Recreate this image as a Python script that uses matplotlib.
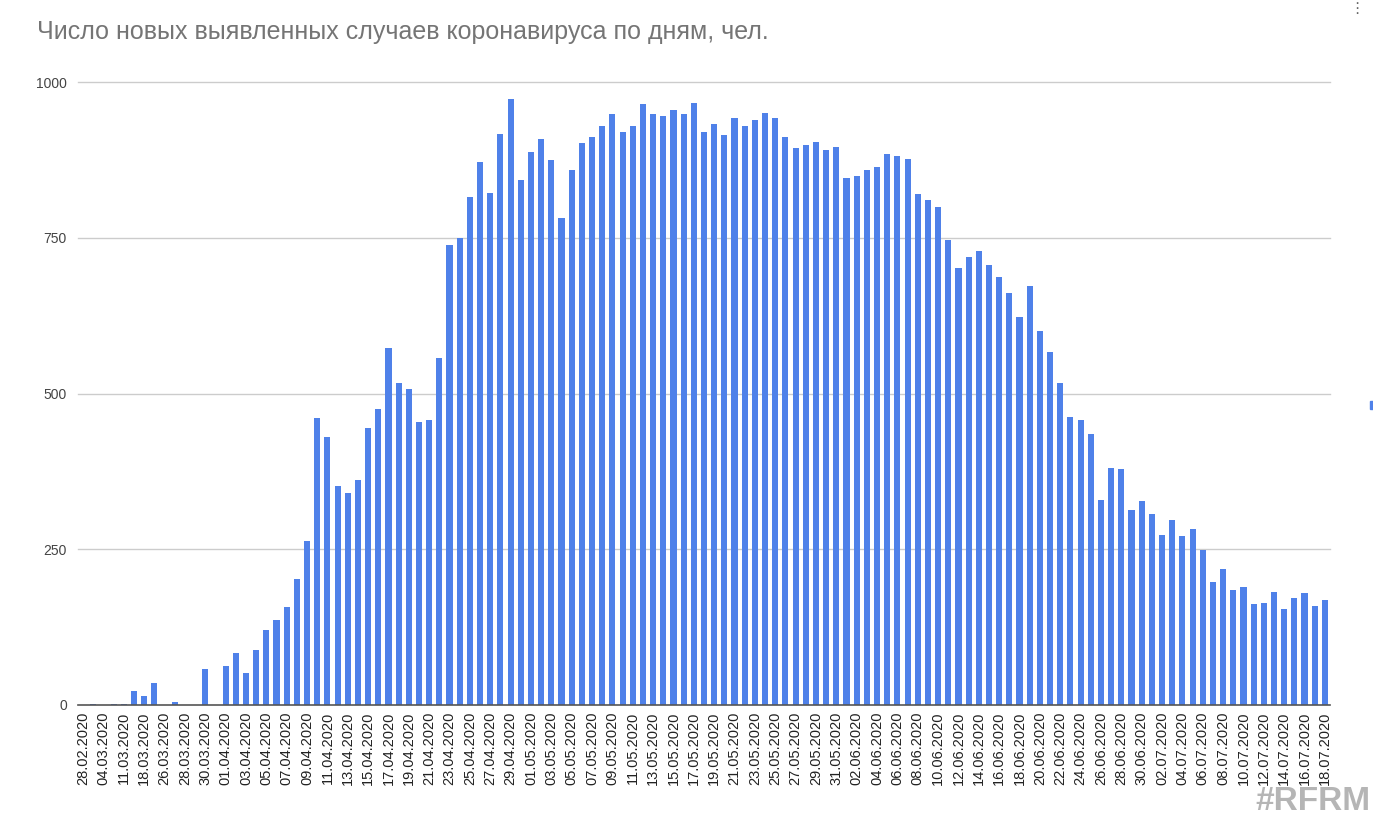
import numpy as np
import matplotlib.pyplot as plt
from matplotlib.patches import Rectangle
from datetime import date, timedelta

# dates: sparse start, then daily from 26.03 to 18.07
early_dates = ["28.02.2020", "02.03.2020", "04.03.2020", "06.03.2020",
               "11.03.2020", "14.03.2020", "18.03.2020", "21.03.2020"]
daily_start = date(2020, 3, 26)
daily_end = date(2020, 7, 18)
daily_dates = []
d = daily_start
while d <= daily_end:
    daily_dates.append(d.strftime("%d.%m.%Y"))
    d += timedelta(days=1)
dates = early_dates + daily_dates

# new cases per day
cases = [
    0, 2, 0, 2, 2, 22, 15, 35,                     # 28.02 - 21.03
    0, 5, 0, 0, 57, 0,                             # 26.03 - 31.03
    63, 84, 51, 89, 121, 136, 158, 203, 263, 461,  # 01.04 - 10.04
    430, 351, 340, 361, 445, 475, 573, 517, 508, 455,
    457, 557, 739, 749, 815, 871, 822, 917, 972, 843,  # 21.04 - 30.04
    887, 909, 875, 781, 858, 902, 911, 930, 948, 919,  # 01.05 - 10.05
    930, 965, 948, 945, 955, 949, 966, 919, 933, 915,
    943, 929, 939, 950, 942, 912, 894, 899, 903, 891,
    895, 846, 849, 859, 864, 885, 881, 876, 820, 810,  # 31.05 - 09.06
    799, 747, 701, 719, 729, 706, 687, 661, 622, 673,
    601, 567, 517, 463, 457, 435, 329, 381, 379, 313,
    328, 306, 273, 297, 272, 283, 249, 197, 219, 185,  # 30.06 - 09.07
    190, 162, 163, 181, 154, 172, 179, 159, 169,       # 10.07 - 18.07
]

yticks = [0, 250, 500, 750, 1000]

fig = plt.figure(figsize=(13.73, 8.17), dpi=100)
ax = fig.add_axes([78 / 1373, 112 / 817, 1252 / 1373, 623 / 817])

x = np.arange(len(dates))
ax.bar(x, cases, width=0.6, color="#4f81e9", zorder=3)

ax.set_xlim(-0.5, len(dates) - 0.5)
ax.set_ylim(0, 1000)
ax.set_yticks(yticks)
ax.set_yticklabels([str(v) for v in yticks], fontsize=10, color="#444444",
                   family="Liberation Sans")
ax.set_xticks(x[::2])
ax.set_xticklabels(dates[::2], rotation=90, fontsize=10.5, color="#222222",
                   family="Liberation Sans")
ax.tick_params(axis="both", length=0)
ax.tick_params(axis="y", pad=8)
ax.tick_params(axis="x", pad=5)

for v in yticks[1:]:
    ax.axhline(v, color="#cccccc", lw=1, zorder=1, clip_on=False)
ax.axhline(0, color="#555555", lw=1.2, zorder=4, clip_on=False)
for s in ax.spines.values():
    s.set_visible(False)

fig.text(37 / 1373, 1 - 32 / 817,
         "Число новых выявленных случаев коронавируса по дням, чел.",
         fontsize=18, color="#757575", family="Liberation Sans",
         ha="left", va="center")

fig.text(1370 / 1373, 0.5 / 817, "#RFRM", fontsize=24, fontweight="bold",
         color="#b5b5b5", family="Liberation Sans", ha="right", va="bottom")

# leftovers of the chart widget at the right edge
fig.patches.append(Rectangle((1370 / 1373, 1 - 409 / 817), 3 / 1373, 8 / 817,
                             transform=fig.transFigure, color="#4f81e9"))
fig.text(1357 / 1373, 1 - 1 / 817, "⋮", fontsize=11, color="#666666",
         ha="center", va="top")

fig.savefig("out.png", dpi=100)
